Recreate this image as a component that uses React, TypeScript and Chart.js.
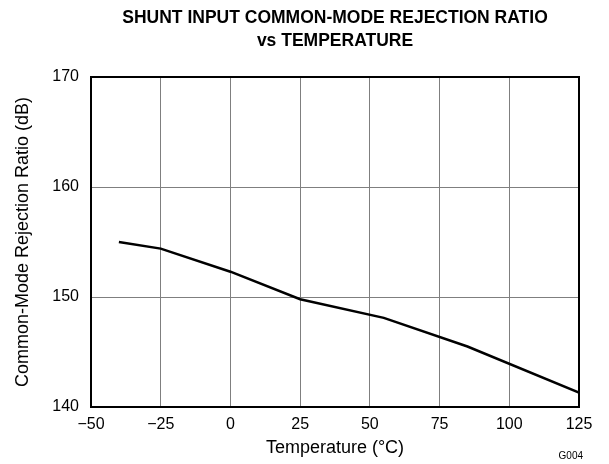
import React, { useEffect, useRef } from "react";
import { Chart, registerables } from "chart.js";

Chart.register(...registerables);

const temperatures = [-40, -25, 0, 25, 55, 85, 125];
const cmrrValues = [155.0, 154.4, 152.3, 149.8, 148.1, 145.5, 141.3];
const xTickValues = [-50, -25, 0, 25, 50, 75, 100, 125];
const yTickValues = [140, 150, 160, 170];
const titleLines = ["SHUNT INPUT COMMON-MODE REJECTION RATIO", "vs TEMPERATURE"];
const xAxisTitle = "Temperature (°C)";
const yAxisTitle = "Common-Mode Rejection Ratio (dB)";
const figureId = "G004";

const FONT = "'Liberation Sans', Arial, Helvetica, sans-serif";

const fmt = (v: number) => (v < 0 ? "\u2212" + Math.abs(v) : String(v));

const decorPlugin = {
  id: "decor",
  afterDraw(chart: any) {
    const { ctx, chartArea } = chart;
    ctx.save();
    ctx.strokeStyle = "#000";
    ctx.lineWidth = 2;
    ctx.strokeRect(chartArea.left, chartArea.top, chartArea.right - chartArea.left, chartArea.bottom - chartArea.top);
    ctx.fillStyle = "#000";
    ctx.textAlign = "center";
    ctx.textBaseline = "middle";
    ctx.font = `bold 17.5px ${FONT}`;
    const cx = (chartArea.left + chartArea.right) / 2;
    ctx.fillText(titleLines[0], cx, 18);
    ctx.fillText(titleLines[1], cx, 41);
    ctx.font = `10px ${FONT}`;
    ctx.textAlign = "right";
    ctx.fillText(figureId, 583, 456);
    ctx.restore();
  },
};

export default function App() {
  const ref = useRef<HTMLCanvasElement | null>(null);
  useEffect(() => {
    document.body.style.margin = "0";
    const canvas = ref.current;
    if (!canvas) return;
    const chart = new Chart(canvas, {
      type: "line",
      data: {
        datasets: [
          {
            data: temperatures.map((t, i) => ({ x: t, y: cmrrValues[i] })),
            borderColor: "#000",
            borderWidth: 2.5,
            pointRadius: 0,
            tension: 0,
            fill: false,
          },
        ],
      },
      options: {
        responsive: false,
        animation: false,
        layout: { padding: { top: 77, right: 30, left: 0, bottom: 0 } },
        plugins: { legend: { display: false }, tooltip: { enabled: false }, title: { display: false } },
        scales: {
          x: {
            type: "linear",
            min: xTickValues[0],
            max: xTickValues[xTickValues.length - 1],
            afterBuildTicks: (s: any) => {
              s.ticks = xTickValues.map((v) => ({ value: v }));
            },
            afterFit: (s: any) => {
              s.height = 57;
            },
            grid: { color: "#7f7f7f", lineWidth: 1, drawTicks: false },
            border: { display: false },
            ticks: {
              padding: 8,
              color: "#000",
              font: { family: FONT, size: 16 },
              maxRotation: 0,
              autoSkip: false,
              callback: (v: any) => fmt(Number(v)),
            },
            title: {
              display: true,
              text: xAxisTitle,
              color: "#000",
              font: { family: FONT, size: 18 },
              padding: { top: 0, bottom: 5 },
            },
          },
          y: {
            type: "linear",
            min: yTickValues[0],
            max: yTickValues[yTickValues.length - 1],
            afterBuildTicks: (s: any) => {
              s.ticks = yTickValues.map((v) => ({ value: v }));
            },
            afterFit: (s: any) => {
              s.width = 91;
            },
            grid: { color: "#7f7f7f", lineWidth: 1, drawTicks: false },
            border: { display: false },
            ticks: {
              padding: 12,
              color: "#000",
              font: { family: FONT, size: 16 },
              autoSkip: false,
              callback: (v: any) => fmt(Number(v)),
            },
            title: {
              display: true,
              text: yAxisTitle,
              color: "#000",
              font: { family: FONT, size: 18 },
              padding: { top: 12, bottom: 0 },
            },
          },
        },
      },
      plugins: [decorPlugin],
    } as any);
    return () => chart.destroy();
  }, []);
  return (
    <div style={{ width: 609, height: 464 }}>
      <canvas ref={ref} width={609} height={464} />
    </div>
  );
}
